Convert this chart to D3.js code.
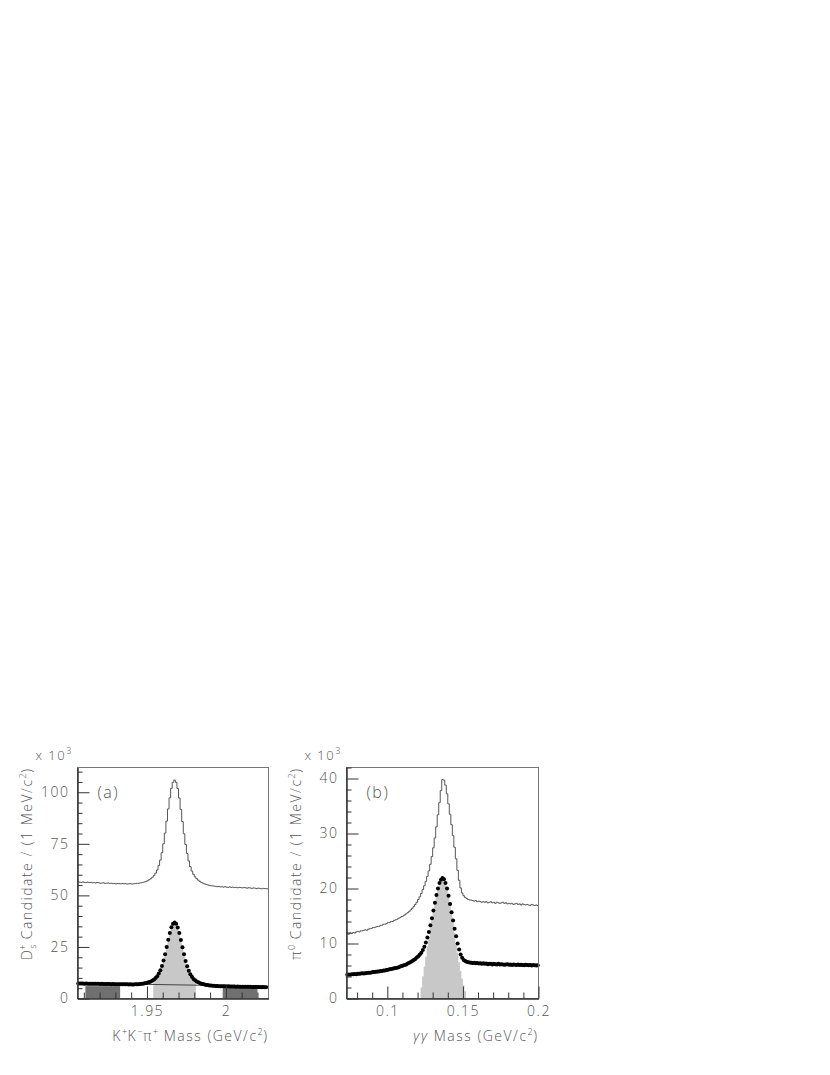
<!DOCTYPE html>
<html><head><meta charset="utf-8">
<script src="https://cdn.jsdelivr.net/npm/d3@7"></script>
<style>
body{margin:0;background:#fff;}
svg text{font-family:"Open Sans","DejaVu Sans",sans-serif;fill:#555;font-weight:300;letter-spacing:1.5px;}
</style></head><body>
<svg id="c" width="830" height="1075"></svg>
<script>
// ---------- Panel (a): K+K-pi+ mass, 1 MeV bins starting at 1.906 GeV ----------
const aStart = 1.906, aBin = 0.001;
const aUpper = [56.5,56.4,56.3,56.5,56.3,56.2,56.4,56.2,56.3,56.1,56.2,56.0,56.2,56.1,55.9,56.0,56.1,55.8,55.9,56.0,55.8,55.9,55.7,55.8,55.6,55.8,55.7,55.6,55.8,55.6,55.7,55.5,55.6,55.7,55.5,55.6,
55.7,55.8,55.8,56.0,56.1,56.3,56.5,56.8,57.1,57.6,58.1,58.8,59.6,60.8,62.3,64.4,67.1,70.7,75.0,80.2,86.0,91.9,97.3,101.9,104.8,105.9,104.8,101.8,97.2,91.7,85.8,79.9,74.7,70.3,66.7,63.9,61.8,60.2,59.0,58.1,57.4,56.8,56.3,55.9,55.6,55.3,55.1,54.85,54.7,54.6,54.5,
54.4,54.2,54.3,54.1,54.2,54.0,54.2,54.0,53.9,54.1,53.9,54.0,53.8,53.9,53.7,53.9,53.8,53.6,53.8,53.7,53.5,53.7,53.6,53.4,53.6,53.5,53.3,53.5,53.4,53.2,53.4,53.3,53.2];
const aLower = [7.3,7.3,7.25,7.3,7.2,7.25,7.2,7.2,7.15,7.2,7.1,7.15,7.1,7.1,7.05,7.1,7.05,7.0,7.05,7.0,7.0,6.95,7.0,6.95,6.95,6.9,6.95,6.9,6.9,6.85,6.9,6.85,6.8,6.85,6.8,6.8,
6.9,6.9,6.95,7.05,7.1,7.2,7.35,7.5,7.7,8.0,8.3,8.7,9.2,9.9,10.8,12.1,13.7,15.8,18.4,21.5,25.0,28.5,31.8,34.5,36.3,36.9,36.2,34.4,31.7,28.4,24.8,21.4,18.2,15.6,13.4,11.8,10.5,9.5,8.8,8.3,7.85,7.5,7.2,7.0,6.8,6.6,6.5,6.35,6.3,6.2,6.15,
6.1,6.05,6.0,5.95,5.95,5.9,5.9,5.85,5.9,5.85,5.8,5.85,5.8,5.75,5.8,5.75,5.7,5.75,5.7,5.7,5.65,5.7,5.65,5.6,5.6,5.6,5.55,5.6,5.55,5.5,5.55,5.5,5.5];
const aSignalRegion = [1.954, 1.981];
const aSidebands = [[1.911, 1.933], [1.998, 2.020]];
const aSidebandLevels = [6.0, 5.3];
const aBkgLine = [[1.906, 7.4], [2.027, 5.9]];
const aXDomain = [1.906, 2.027];
const aYDomain = [0, 112];
const aXMajor = [1.95, 2.0];
const aXMajorLabels = ["1.95", "2"];
const aXMinor = [1.91,1.92,1.93,1.94,1.96,1.97,1.98,1.99,2.01,2.02];
const aYMajor = [0, 25, 50, 75, 100];
const aYMinor = [5,10,15,20,30,35,40,45,55,60,65,70,80,85,90,95,105,110];

// ---------- Panel (b): gamma gamma mass, 1 MeV bins starting at 0.073 GeV ----------
const bStart = 0.073, bBin = 0.001;
const bUpper = [11.8,11.7,11.9,11.8,12.0,11.9,12.1,12.2,12.1,12.3,
12.3,12.4,12.5,12.4,12.6,12.7,12.7,12.9,12.9,13.0,
13.1,13.1,13.3,13.3,13.5,13.5,13.6,13.8,13.8,14.0,
14.0,14.2,14.3,14.4,14.6,14.7,14.9,15.0,15.2,15.4,
15.6,15.8,16.1,16.4,16.7,17.1,17.5,18.0,18.5,19.1,
19.8,20.5,21.3,22.2,23.2,24.4,25.8,27.4,29.2,31.2,
33.4,35.6,37.8,39.8,39.7,
38.8,37.2,35.4,33.5,31.6,29.6,27.5,25.4,23.3,21.5,20.1,19.2,18.7,
18.4,18.2,18.0,17.9,17.9,17.8,17.7,17.8,17.6,17.7,17.6,17.5,
17.6,17.5,17.6,17.4,17.5,17.6,17.4,17.5,17.3,17.5,
17.4,17.3,17.4,17.5,17.3,17.4,17.2,17.3,17.2,17.3,
17.1,17.2,17.3,17.1,17.2,17.0,17.2,17.1,17.0,17.1,
17.0,16.9,17.1,17.0,16.9,17.0,16.9];
const bLower = [4.3,4.35,4.3,4.4,4.4,4.45,4.4,4.5,4.5,4.55,
4.6,4.55,4.6,4.65,4.7,4.7,4.75,4.8,4.8,4.85,
4.9,4.9,5.0,5.0,5.1,5.1,5.2,5.25,5.3,5.35,
5.4,5.5,5.55,5.6,5.7,5.8,5.9,6.0,6.1,6.2,
6.35,6.5,6.65,6.8,7.0,7.2,7.45,7.7,8.0,8.3,
8.8,9.4,10.2,11.1,12.1,13.3,14.6,16.0,17.4,18.8,
20.0,21.0,21.6,21.9,21.7,21.0,20.0,18.7,17.2,15.7,
14.2,12.7,11.3,10.0,8.9,8.0,7.4,7.0,6.8,6.7,
6.6,6.55,6.5,6.45,6.5,6.4,6.45,6.35,6.4,6.3,
6.4,6.3,6.35,6.25,6.3,6.3,6.2,6.3,6.25,6.2,
6.3,6.2,6.25,6.2,6.15,6.2,6.25,6.15,6.2,6.1,
6.2,6.15,6.1,6.2,6.1,6.15,6.1,6.05,6.15,6.1,
6.05,6.1,6.0,6.1,6.05,6.0,6.05];
const bSignalStart = 0.122;
const bSignal = [2.0,4.0,5.8,7.6,9.4,11.2,13.0,14.6,16.0,17.3,18.6,19.7,20.6,21.2,21.5,21.3,20.7,19.8,18.5,17.0,15.4,13.7,11.9,10.1,8.3,6.6,5.0,3.6,2.4,1.3];
const bXDomain = [0.073, 0.2];
const bYDomain = [0, 42];
const bXMajor = [0.1, 0.15, 0.2];
const bXMajorLabels = ["0.1", "0.15", "0.2"];
const bXMinor = [0.08,0.09,0.11,0.12,0.13,0.14,0.16,0.17,0.18,0.19];
const bYMajor = [0, 10, 20, 30, 40];
const bYMinor = [2,4,6,8,12,14,16,18,22,24,26,28,32,34,36,38,42];

const svg = d3.select("#c");

function rich(t, segs) {
  let shift = 0;
  segs.forEach(([txt, kind, extra]) => {
    const ts = t.append("tspan");
    let target = 0;
    if (kind === "sup") target = -6;
    else if (kind === "sub") target = 4;
    ts.attr("dy", target - shift);
    shift = target;
    if (kind === "sup" || kind === "sub") ts.style("font-size", "9px").style("letter-spacing", "0.5px");
    if (extra && extra.dx) ts.attr("dx", extra.dx);
    if (extra && extra.italic) ts.style("font-style", "italic");
    ts.text(txt);
  });
}

function panel(o) {
  const x = d3.scaleLinear().domain(o.xDomain).range([o.left, o.right]);
  const y = d3.scaleLinear().domain(o.yDomain).range([o.bottom, o.top]);
  const g = svg.append("g");

  const lowerPts = o.lower.map((v, i) => [o.start + (i + 0.5) * o.bin, v]);

  if (o.sidebands) {
    o.sidebands.forEach((r, k) => {
      g.append("rect").attr("x", x(r[0])).attr("width", x(r[1]) - x(r[0]))
        .attr("y", y(o.sidebandLevels[k])).attr("height", y(0) - y(o.sidebandLevels[k]))
        .attr("fill", "#707070");
    });
  }
  if (o.signalRegion) {
    const [s0, s1] = o.signalRegion;
    const interp = xx => {
      for (let i = 0; i < lowerPts.length - 1; i++) {
        if (xx >= lowerPts[i][0] && xx <= lowerPts[i + 1][0]) {
          const t = (xx - lowerPts[i][0]) / (lowerPts[i + 1][0] - lowerPts[i][0]);
          return lowerPts[i][1] + t * (lowerPts[i + 1][1] - lowerPts[i][1]);
        }
      }
      return 0;
    };
    const pts = [[s0, interp(s0)]].concat(lowerPts.filter(p => p[0] > s0 && p[0] < s1), [[s1, interp(s1)]]);
    g.append("path").datum(pts)
      .attr("d", d3.area().x(d => x(d[0])).y0(y(0)).y1(d => y(d[1])))
      .attr("fill", "#c8c8c8");
  }
  if (o.signalHist) {
    const pts = o.signalHist.map((v, i) => [o.signalStart + i * o.bin, v]);
    pts.push([o.signalStart + o.signalHist.length * o.bin, o.signalHist[o.signalHist.length - 1]]);
    g.append("path").datum(pts)
      .attr("d", d3.area().curve(d3.curveStepAfter).x(d => x(d[0])).y0(y(0)).y1(d => y(d[1])))
      .attr("fill", "#c8c8c8");
  }
  if (o.bkgLine) {
    g.append("path").datum(o.bkgLine)
      .attr("d", d3.line().x(d => x(d[0])).y(d => y(d[1])))
      .attr("fill", "none").attr("stroke", "#444").attr("stroke-width", 1);
  }

  const up = o.upper.map((v, i) => [o.start + i * o.bin, v]);
  up.push([o.xDomain[1], o.upper[o.upper.length - 1]]);
  g.append("path").datum(up)
    .attr("d", d3.line().curve(d3.curveStepAfter).x(d => x(d[0])).y(d => y(d[1])))
    .attr("fill", "none").attr("stroke", "#555").attr("stroke-width", 1);

  g.selectAll("circle.dot").data(lowerPts).join("circle")
    .attr("class", "dot").attr("cx", d => x(d[0])).attr("cy", d => y(d[1]))
    .attr("r", 2).attr("fill", "#000");

  g.append("rect").attr("x", o.left).attr("y", o.top)
    .attr("width", o.right - o.left).attr("height", o.bottom - o.top)
    .attr("fill", "none").attr("stroke", "#777").attr("stroke-width", 1);

  const style = sel => { sel.selectAll("line").attr("stroke", "#333"); sel.select(".domain").attr("stroke", "#333"); };
  g.append("g").attr("transform", `translate(0,${o.bottom})`)
    .call(d3.axisBottom(x).tickValues(o.xMinor).tickSize(-6).tickSizeOuter(0).tickFormat(""))
    .call(style);
  g.append("g").attr("transform", `translate(0,${o.bottom})`)
    .call(d3.axisBottom(x).tickValues(o.xMajor).tickSize(-12).tickSizeOuter(0).tickPadding(8)
      .tickFormat((d, i) => o.xMajorLabels[i]))
    .call(style)
    .selectAll("text").style("font-size", "14px");
  g.append("g").attr("transform", `translate(${o.left},0)`)
    .call(d3.axisLeft(y).tickValues(o.yMinor).tickSize(-5).tickSizeOuter(0).tickFormat(""))
    .call(style);
  g.append("g").attr("transform", `translate(${o.left},0)`)
    .call(d3.axisLeft(y).tickValues(o.yMajor).tickSize(-12).tickSizeOuter(0).tickPadding(8))
    .call(style)
    .selectAll("text").style("font-size", "14px");

  const m = g.append("text").attr("x", o.left - 42).attr("y", o.top - 8).style("font-size", "13px");
  rich(m, [["x 10", ""], ["3", "sup"]]);

  g.append("text").attr("x", o.left + 20).attr("y", o.top + 30).style("font-size", "16px").text(o.label);

  const xt = g.append("text").attr("x", o.right).attr("y", o.bottom + 42)
    .attr("text-anchor", "end").style("font-size", "14px");
  rich(xt, o.xTitle);

  const yt = g.append("text").attr("transform", `translate(${o.yTitleX},${o.top}) rotate(-90)`)
    .attr("text-anchor", "end").style("font-size", "14px");
  rich(yt, o.yTitle);
}

panel({
  left: 77.5, right: 268.5, top: 767.5, bottom: 998.5,
  xDomain: aXDomain, yDomain: aYDomain, start: aStart, bin: aBin,
  upper: aUpper, lower: aLower,
  signalRegion: aSignalRegion, sidebands: aSidebands, sidebandLevels: aSidebandLevels, bkgLine: aBkgLine,
  xMajor: aXMajor, xMajorLabels: aXMajorLabels, xMinor: aXMinor, yMajor: aYMajor, yMinor: aYMinor,
  label: "(a)", yTitleX: 32,
  xTitle: [["K", ""], ["+", "sup"], ["K", ""], ["\u2212", "sup"], ["\u03c0", ""], ["+", "sup"], [" Mass (GeV/c", ""], ["2", "sup"], [")", ""]],
  yTitle: [["D", ""], ["s", "sub"], ["+", "sup", {dx: -6}], [" Candidate / (1 MeV/c", ""], ["2", "sup"], [")", ""]]
});

panel({
  left: 346.5, right: 538.5, top: 767.5, bottom: 998.5,
  xDomain: bXDomain, yDomain: bYDomain, start: bStart, bin: bBin,
  upper: bUpper, lower: bLower,
  signalHist: bSignal, signalStart: bSignalStart,
  xMajor: bXMajor, xMajorLabels: bXMajorLabels, xMinor: bXMinor, yMajor: bYMajor, yMinor: bYMinor,
  label: "(b)", yTitleX: 301,
  xTitle: [["\u03b3\u03b3", "", {italic: true}], [" Mass (GeV/c", ""], ["2", "sup"], [")", ""]],
  yTitle: [["\u03c0", ""], ["0", "sup"], [" Candidate / (1 MeV/c", ""], ["2", "sup"], [")", ""]]
});
</script>
</body></html>
